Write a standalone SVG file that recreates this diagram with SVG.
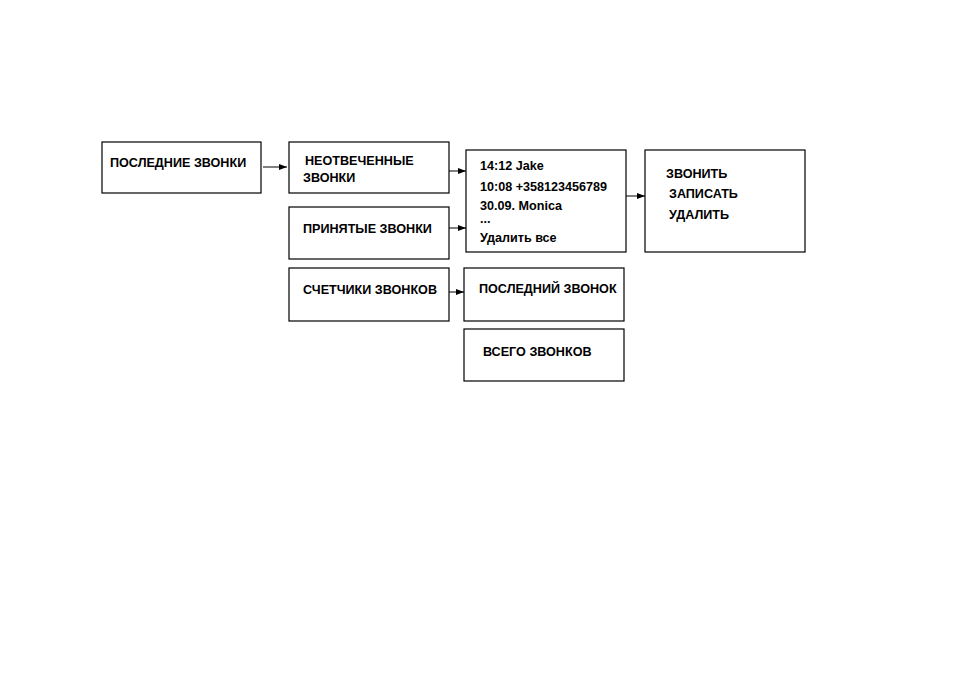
<svg xmlns="http://www.w3.org/2000/svg" width="954" height="673" viewBox="0 0 954 673">
<defs>
<marker id="ah" markerWidth="8" markerHeight="6" refX="8" refY="3" orient="auto" markerUnits="userSpaceOnUse">
<path d="M0,0 L8,3 L0,6 Z" fill="#000"/>
</marker>
<style>
.box{fill:#fff;stroke:#000;stroke-width:1.2}
.t{font-family:"Liberation Sans",Arial,sans-serif;font-size:12.6px;font-weight:bold;fill:#000}
.c{stroke:#000;stroke-width:1;fill:none;marker-end:url(#ah)}
</style>
</defs>
<rect width="954" height="673" fill="#fff"/>
<g id="n1"><rect class="box" x="102" y="142" width="159" height="51"/><text class="t" x="110" y="167">ПОСЛЕДНИЕ ЗВОНКИ</text></g>
<g id="n2"><rect class="box" x="289" y="142" width="160" height="51"/><text class="t" x="305" y="165">НЕОТВЕЧЕННЫЕ</text><text class="t" x="303" y="182">ЗВОНКИ</text></g>
<g id="n3"><rect class="box" x="466" y="150" width="160" height="102"/>
<text class="t" x="480" y="170">14:12 Jake</text>
<text class="t" x="480" y="191">10:08 +358123456789</text>
<text class="t" x="480" y="210">30.09. Monica</text>
<text class="t" x="480" y="223">...</text>
<text class="t" x="480" y="242">Удалить все</text></g>
<g id="n4"><rect class="box" x="645" y="150" width="160" height="102"/>
<text class="t" x="666" y="178">ЗВОНИТЬ</text>
<text class="t" x="669" y="198">ЗАПИСАТЬ</text>
<text class="t" x="669" y="219">УДАЛИТЬ</text></g>
<g id="n5"><rect class="box" x="289" y="207" width="160" height="52"/><text class="t" x="303" y="233">ПРИНЯТЫЕ ЗВОНКИ</text></g>
<g id="n6"><rect class="box" x="289" y="268" width="160" height="53"/><text class="t" x="303" y="294">СЧЕТЧИКИ ЗВОНКОВ</text></g>
<g id="n7"><rect class="box" x="464" y="268" width="160" height="53"/><text class="t" x="479" y="293">ПОСЛЕДНИЙ ЗВОНОК</text></g>
<g id="n8"><rect class="box" x="464" y="329" width="160" height="52"/><text class="t" x="483" y="356">ВСЕГО ЗВОНКОВ</text></g>
<g id="connectors">
<line class="c" x1="263" y1="167" x2="287" y2="167"/>
<line class="c" x1="449" y1="171" x2="466" y2="171"/>
<line class="c" x1="626" y1="196" x2="645" y2="196"/>
<line class="c" x1="449" y1="228" x2="466" y2="228"/>
<line class="c" x1="449" y1="292" x2="464" y2="292"/>
</g>
</svg>
